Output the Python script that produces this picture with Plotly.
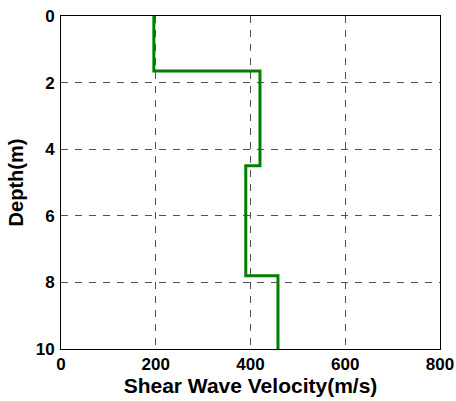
import plotly.graph_objects as go

# Shear-wave velocity profile (layer tops/bottoms in m, velocity in m/s)
layer_top = [0.0, 1.65, 4.5, 7.8]
layer_bottom = [1.65, 4.5, 7.8, 10.0]
vs = [196, 420, 390, 458]

x_ticks = [0, 200, 400, 600, 800]
y_ticks = [0, 2, 4, 6, 8, 10]

# Build a stepped profile from the layers
xs, ys = [], []
for top, bot, v in zip(layer_top, layer_bottom, vs):
    xs += [v, v]
    ys += [top, bot]

fig = go.Figure(go.Scatter(x=xs, y=ys, mode="lines",
                           line=dict(color="#008000", width=3),
                           hoverinfo="skip", showlegend=False))

family = "Liberation Sans, Arial, sans-serif"
axis_common = dict(showline=True, linecolor="black", linewidth=1, mirror=True,
                   showgrid=True, gridcolor="#505050", gridwidth=1, griddash="7px,7px",
                   zeroline=False, ticks="", automargin=False,
                   tickfont=dict(family=family, size=17, color="black", weight=700))

fig.update_layout(
    width=456, height=401,
    margin=dict(l=61, r=16, t=16, b=52),
    paper_bgcolor="white", plot_bgcolor="white",
    font=dict(family=family, size=17, color="black"),
    xaxis=dict(range=[0, 800], tickvals=x_ticks,
               ticktext=[f"<b>{t}</b>" for t in x_ticks], ticklabelstandoff=0,
               title=dict(text="<b>Shear Wave Velocity(m/s)</b>", standoff=0,
                          font=dict(size=21, weight=700)),
               **axis_common),
    yaxis=dict(range=[10, 0], tickvals=y_ticks,
               ticktext=[f"<b>{t}</b>" for t in y_ticks], ticklabelstandoff=2,
               title=dict(text="<b>Depth(m)</b>", standoff=6,
                          font=dict(size=20, weight=700)),
               **axis_common),
)

fig.write_html("out.html")
